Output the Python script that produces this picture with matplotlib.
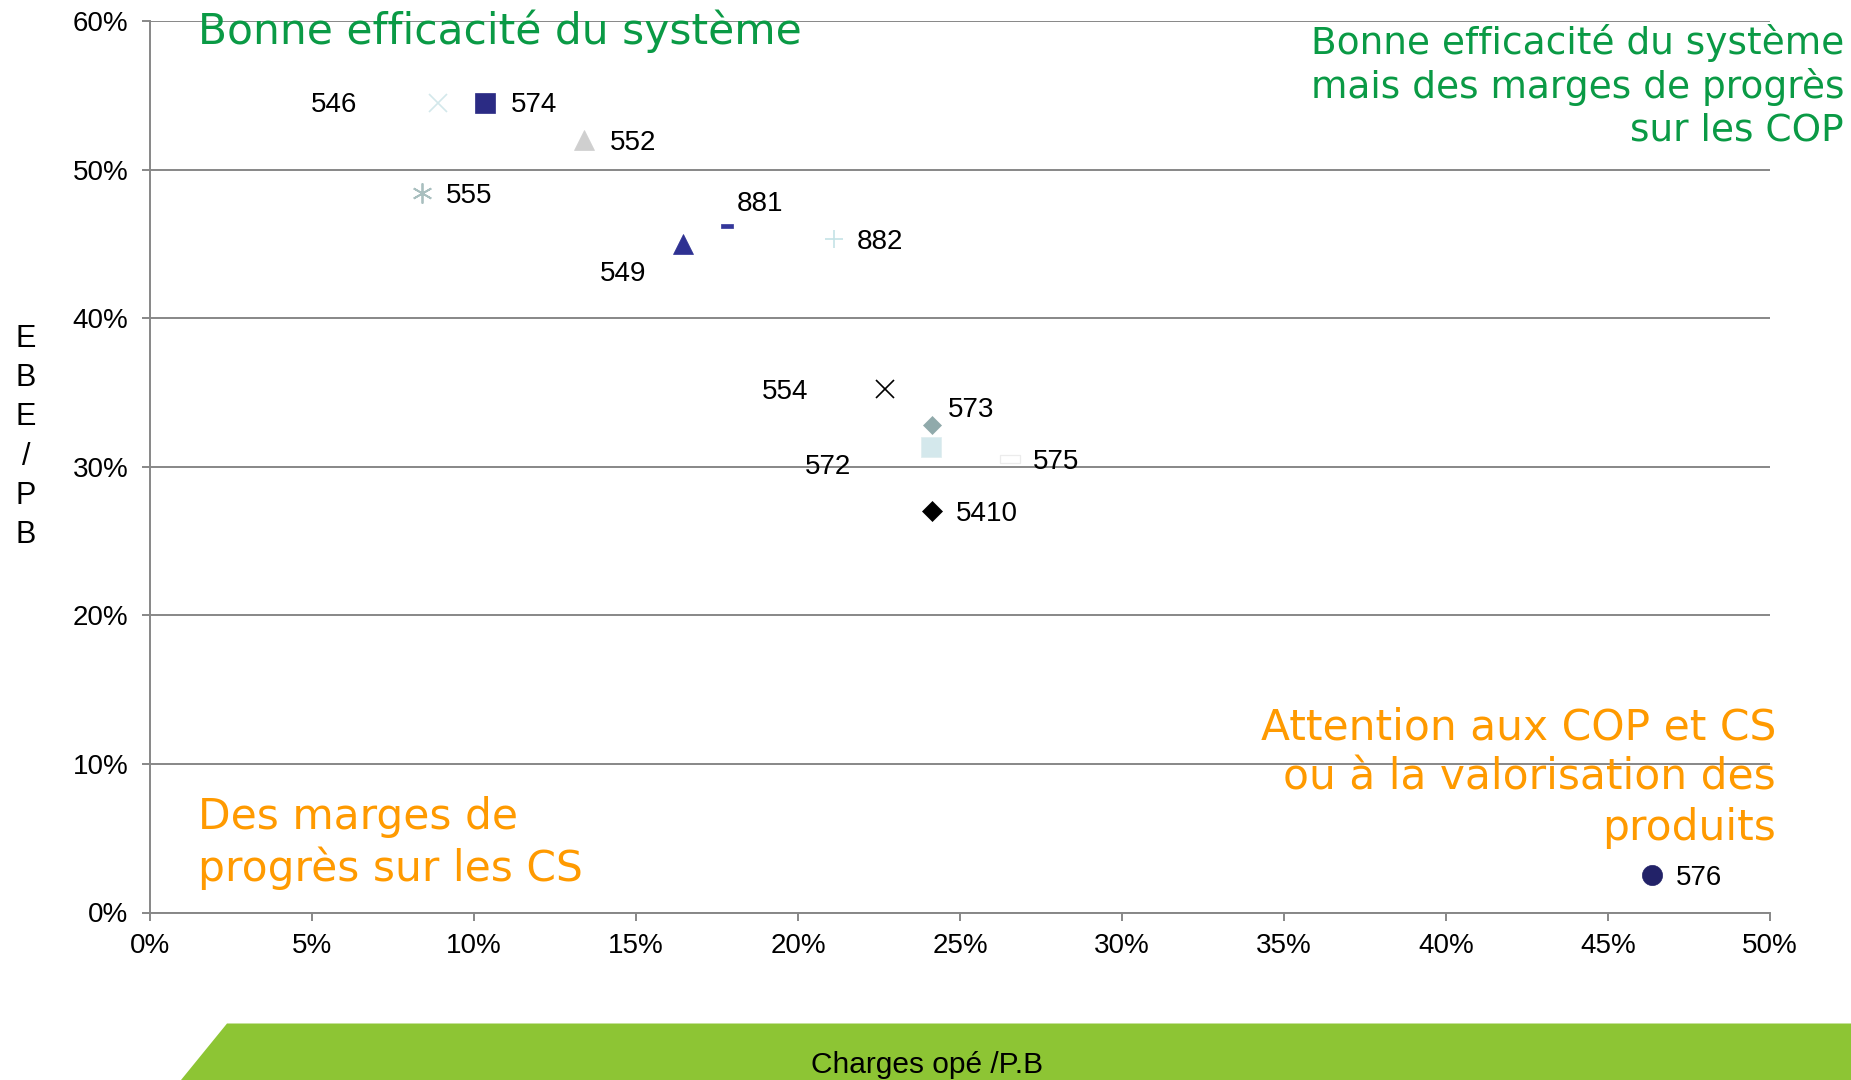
import matplotlib
matplotlib.use("Agg")
import matplotlib.pyplot as plt
from matplotlib.ticker import PercentFormatter
from matplotlib.patches import Polygon
from matplotlib.path import Path
from matplotlib import font_manager

# Farm codes with their ratios (in %)
codes = ["546", "574", "552", "555", "881", "882", "549", "554", "573", "572", "575", "5410", "576"]
charges_ope = [8.9, 10.35, 13.4, 8.4, 17.8, 21.1, 16.45, 22.7, 24.15, 24.1, 26.55, 24.15, 46.35]
ebe_pb = [54.5, 54.5, 52.0, 48.4, 46.2, 45.3, 45.0, 35.2, 32.8, 31.3, 30.5, 27.0, 2.5]

x_ticks = [0, 5, 10, 15, 20, 25, 30, 35, 40, 45, 50]
y_ticks = [0, 10, 20, 30, 40, 50, 60]

# Marker styles per farm: (marker, size, face, edge, edge width)
dash = Path([(-1, -0.4), (1, -0.4), (1, 0.4), (-1, 0.4), (-1, -0.4)],
            [Path.MOVETO, Path.LINETO, Path.LINETO, Path.LINETO, Path.CLOSEPOLY])
styles = {
    "546": ("x", 13.5, "#d3e8eb", "#d3e8eb", 1.2),
    "574": ("s", 14.0, "#2b2b84", "#2b2b84", 0.5),
    "552": ("^", 14.0, "#cfcfcf", "#cfcfcf", 0.5),
    "555": ((6, 2, 0), 14.5, "#a9bfbf", "#a9bfbf", 1.3),
    "881": (dash, 8.5, "#34379a", "#34379a", 0.5),
    "882": ("+", 13.5, "#c5e3e6", "#c5e3e6", 1.2),
    "549": ("^", 15.0, "#2e3192", "#2e3192", 0.5),
    "554": ("x", 13.5, "#000000", "#000000", 1.2),
    "573": ("D", 9.5, "#90aaab", "#90aaab", 0.5),
    "572": ("s", 14.5, "#d4e8ec", "#e0eef0", 0.6),
    "575": (dash, 14.0, "#ffffff", "#ececec", 0.9),
    "5410": ("D", 10.0, "#000000", "#000000", 0.5),
    "576": ("o", 14.5, "#222268", "#222268", 0.5),
}
# Label offsets in points
offsets = {
    "546": (-75, -2), "574": (35, -2), "552": (35, -2), "555": (34, -2),
    "881": (24, 16), "882": (33, -2), "549": (-43, -22), "554": (-72, -2),
    "573": (28, 11), "572": (-74, -14), "575": (33, -2), "5410": (39, -2),
    "576": (34, -2),
}

available = {f.name for f in font_manager.fontManager.ttflist}
label_font = "Liberation Sans" if "Liberation Sans" in available else "DejaVu Sans"
narrow_font = "Liberation Sans Narrow" if "Liberation Sans Narrow" in available else label_font

fig = plt.figure(figsize=(18.51, 10.80), dpi=100)
ax = fig.add_axes([150 / 1851, 1 - 912.5 / 1080, 1620 / 1851, (912.5 - 21) / 1080])

ax.set_xlim(0, 50)
ax.set_ylim(0, 60)
ax.set_xticks(x_ticks)
ax.set_yticks(y_ticks)
ax.xaxis.set_major_formatter(PercentFormatter(100, decimals=0))
ax.yaxis.set_major_formatter(PercentFormatter(100, decimals=0))

grid_color = "#878787"
ax.grid(axis="y", color=grid_color, linewidth=1.4)
ax.set_axisbelow(True)
for side in ("top", "right"):
    ax.spines[side].set_visible(False)
for side in ("left", "bottom"):
    ax.spines[side].set_color(grid_color)
    ax.spines[side].set_linewidth(1.4)
ax.tick_params(axis="both", direction="out", length=5.5, width=1.4, color=grid_color,
               labelsize=20, labelcolor="black")
ax.tick_params(axis="y", pad=10)
ax.tick_params(axis="x", pad=9)
for lab in ax.get_xticklabels() + ax.get_yticklabels():
    lab.set_fontfamily(label_font)

for code, xv, yv in zip(codes, charges_ope, ebe_pb):
    m, ms, fc, ec, ew = styles[code]
    ax.plot([xv], [yv], linestyle="none", marker=m, markersize=ms,
            markerfacecolor=fc, markeredgecolor=ec, markeredgewidth=ew,
            clip_on=False, zorder=3)
    dx, dy = offsets[code]
    ax.annotate(code, (xv, yv), xytext=(dx, dy), textcoords="offset points",
                ha="center", va="center", fontsize=20, family=label_font,
                color="black", zorder=4)

# Quadrant captions
green = "#0a9a45"
orange = "#ff9a00"
fig.text(198 / 1851, 1 - 44 / 1080, "Bonne efficacité du système", color=green,
         fontsize=30.5, family="DejaVu Sans", ha="left", va="baseline")
fig.text(1844 / 1851, 1 - 86 / 1080,
         "Bonne efficacité du système\nmais des marges de progrès\nsur les COP",
         color=green, fontsize=27, family="DejaVu Sans", ha="right", va="center",
         multialignment="right", linespacing=1.22)
fig.text(1776 / 1851, 1 - 778 / 1080,
         "Attention aux COP et CS\nou à la valorisation des\nproduits",
         color=orange, fontsize=30.5, family="DejaVu Sans", ha="right", va="center",
         multialignment="right", linespacing=1.25)
fig.text(198 / 1851, 1 - 843 / 1080, "Des marges de\nprogrès sur les CS",
         color=orange, fontsize=30.5, family="DejaVu Sans", ha="left", va="center",
         multialignment="left", linespacing=1.25)

# Vertical stacked y-axis title
fig.text(26 / 1851, 1 - 437 / 1080, "E\nB\nE\n/\nP\nB", fontsize=22, family=label_font,
         ha="center", va="center", multialignment="center", linespacing=1.4)

# Green banner holding the x-axis title
banner = Polygon([(181 / 1851, 0), (227 / 1851, 1 - 1023.5 / 1080),
                  (1.0, 1 - 1023.5 / 1080), (1.0, 0)],
                 closed=True, transform=fig.transFigure, facecolor="#8dc534",
                 edgecolor="none", zorder=0)
fig.patches.append(banner)
fig.text(927 / 1851, 1 - 1065 / 1080, "Charges opé /P.B",
         fontsize=25 if narrow_font != label_font else 21.5,
         family=narrow_font, ha="center", va="center", color="black")

fig.savefig("out.png", dpi=100)
